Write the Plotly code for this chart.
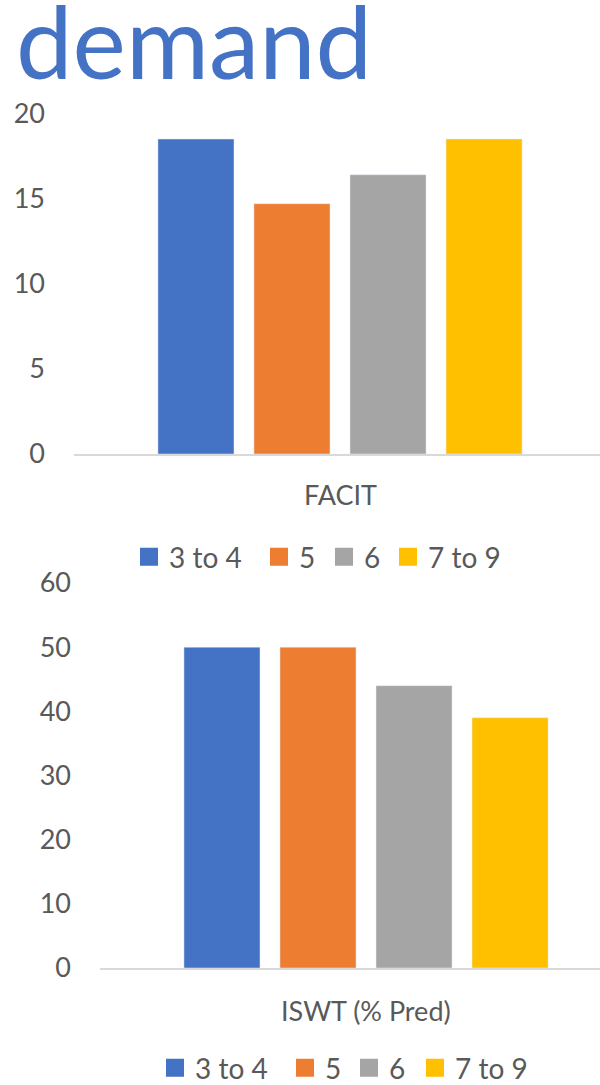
import plotly.graph_objects as go

# Severity groups and their series colours
groups = ["3 to 4", "5", "6", "7 to 9"]
colors = ["#4472C4", "#ED7D31", "#A5A5A5", "#FFC000"]

# Mean scores per group
facit_values = [18.5, 14.7, 16.4, 18.5]
iswt_values = [50, 50, 44, 39]

# Axis ticks
facit_ticks = [0, 5, 10, 15, 20]
iswt_ticks = [0, 10, 20, 30, 40, 50, 60]

facit_label = "FACIT"
iswt_label = "ISWT (% Pred)"
heading = "demand"

W, H = 600, 1085
FONT = "Lato"
FS = 27
TEXT_COLOR = "#595959"
LINE_COLOR = "#D9D9D9"

# Left edge (px) of each legend key, and the vertical centre of each legend row
legend_rows = [
    dict(xs=[129, 259, 324, 388], yc=557, xa="x", ya="y"),
    dict(xs=[155, 285, 349, 415], yc=1068, xa="x2", ya="y2"),
]


def fx(p):
    return p / W


def fy(p):
    return 1 - p / H


fig = go.Figure()

# Bars for both panels
for name, color, v in zip(groups, colors, facit_values):
    fig.add_trace(go.Bar(x=[facit_label], y=[v], name=name, marker_color=color,
                         xaxis="x", yaxis="y", showlegend=False))
for name, color, v in zip(groups, colors, iswt_values):
    fig.add_trace(go.Bar(x=[iswt_label], y=[v], name=name, marker_color=color,
                         xaxis="x2", yaxis="y2", showlegend=False))

legcommon = dict(orientation="h", xanchor="left", yanchor="middle", itemsizing="trace",
                 font=dict(family=FONT, size=28, color=TEXT_COLOR),
                 bgcolor="rgba(0,0,0,0)", borderwidth=0)

# One legend per key so each entry sits at its own spot in the row
legend_layout = {}
k = 0
for row in legend_rows:
    for name, color, xpos in zip(groups, colors, row["xs"]):
        k += 1
        leg = "legend" if k == 1 else f"legend{k}"
        fig.add_trace(go.Scatter(x=[None], y=[None], mode="markers", name=name,
                                 marker=dict(symbol="square", size=16, color=color,
                                             line=dict(color=color, width=2)),
                                 legend=leg, xaxis=row["xa"], yaxis=row["ya"],
                                 showlegend=True, hoverinfo="skip"))
        legend_layout[leg] = dict(x=fx(xpos), y=fy(row["yc"]), **legcommon)

tickfont = dict(family=FONT, size=FS, color=TEXT_COLOR)

xcommon = dict(showline=True, linecolor=LINE_COLOR, linewidth=1.5, showticklabels=False,
               showgrid=False, zeroline=False, ticks="", fixedrange=True, automargin=False)
ycommon = dict(showline=False, showgrid=False, zeroline=False, ticks="",
               tickfont=tickfont, ticklabelstandoff=28, fixedrange=True, automargin=False)

fig.update_layout(
    width=W, height=H,
    margin=dict(l=0, r=0, t=0, b=0, autoexpand=False),
    paper_bgcolor="white", plot_bgcolor="white",
    barmode="group", bargap=0.278, bargroupgap=0.208,
    xaxis=dict(domain=[fx(74), 1], range=[-0.5, 0.4887], anchor="y", **xcommon),
    yaxis=dict(domain=[fy(454), fy(113.5)], range=[0, 20], tickvals=facit_ticks,
               anchor="x", **ycommon),
    xaxis2=dict(domain=[fx(100), 1], range=[-0.5, 0.4398], anchor="y2", **xcommon),
    yaxis2=dict(domain=[fy(968), fy(583)], range=[0, 60], tickvals=iswt_ticks,
                anchor="x2", **ycommon),
    showlegend=True,
    annotations=[
        dict(text=heading, xref="paper", yref="paper", x=fx(14), y=fy(40),
             xanchor="left", yanchor="middle", showarrow=False,
             font=dict(family=FONT, size=101, color="#4472C4")),
        dict(text=facit_label, xref="x", yref="paper", x=facit_label, y=fy(494),
             xanchor="center", yanchor="middle", showarrow=False,
             font=dict(family=FONT, size=FS, color=TEXT_COLOR)),
        dict(text=iswt_label, xref="x2", yref="paper", x=iswt_label, y=fy(1010),
             xanchor="center", yanchor="middle", showarrow=False,
             font=dict(family=FONT, size=FS, color=TEXT_COLOR)),
    ],
)
fig.update_layout(**legend_layout)

fig.write_html("out.html")
